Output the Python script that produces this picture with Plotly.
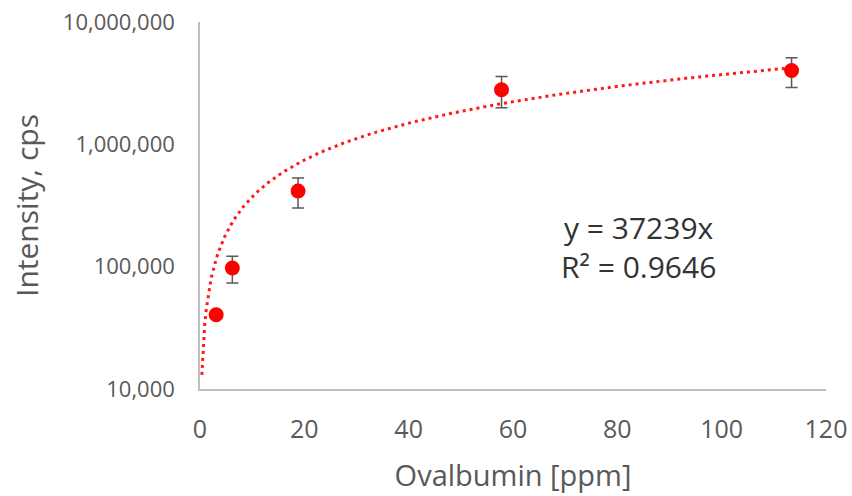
import numpy as np
import plotly.graph_objects as go

# Data
conc_ppm = [3.1, 6.2, 18.8, 57.8, 113.4]
intensity = [40500, 97500, 416000, 2790000, 4010000]
err = [0, 24000, 115000, 800000, 1100000]

slope = 37239
r2 = 0.9646
trend_x = np.linspace(0.35, 113.4, 400)
trend_y = slope * trend_x

y_tickvals = [1e4, 1e5, 1e6, 1e7]
y_ticktext = ["10,000", "100,000", "1,000,000", "10,000,000"]
x_tickvals = [0, 20, 40, 60, 80, 100, 120]

FONT = "'Open Sans', sans-serif"
TXT = "#595959"

fig = go.Figure()
fig.add_trace(go.Scatter(
    x=trend_x, y=trend_y, mode="lines",
    line=dict(color="#ff1a1a", width=3, dash="3px,4px"),
    hoverinfo="skip", showlegend=False))
fig.add_trace(go.Scatter(
    x=conc_ppm, y=intensity, mode="markers",
    marker=dict(color="#ff0000", size=15),
    error_y=dict(type="data", array=err, visible=True,
                 color="#595959", thickness=1.5, width=6),
    showlegend=False))

fig.add_annotation(x=84.0, y=np.log10(143600), xref="x", yref="y",
                   text=f"y = {slope}x<br>R² = {r2}", showarrow=False, align="center",
                   font=dict(family=FONT, size=30, color="#333333"))

fig.update_layout(
    width=852, height=496,
    margin=dict(l=200, r=26, t=22, b=107),
    paper_bgcolor="white", plot_bgcolor="white",
    font=dict(family=FONT, color=TXT),
    xaxis=dict(range=[0, 120], tickvals=x_tickvals, showgrid=False, automargin=False,
               zeroline=False, showline=True, linecolor="#bfbfbf", linewidth=1.5,
               tickfont=dict(size=25, color=TXT), ticks="", ticklabelstandoff=17,
               title=dict(text="Ovalbumin [ppm]", font=dict(size=29, color=TXT), standoff=22)),
    yaxis=dict(type="log", range=[4, 7], tickvals=y_tickvals, ticktext=y_ticktext,
               showgrid=False, zeroline=False, showline=True, linecolor="#bfbfbf",
               linewidth=1.5, tickfont=dict(size=22, color=TXT), ticks="", automargin=False,
               ticklabelstandoff=19,
               title=dict(text="Intensity, cps", font=dict(size=30, color=TXT), standoff=15)),
)

fig.write_html("out.html", config={"displayModeBar": False},
               post_script="document.body.style.margin='0';document.body.style.overflow='hidden';")
